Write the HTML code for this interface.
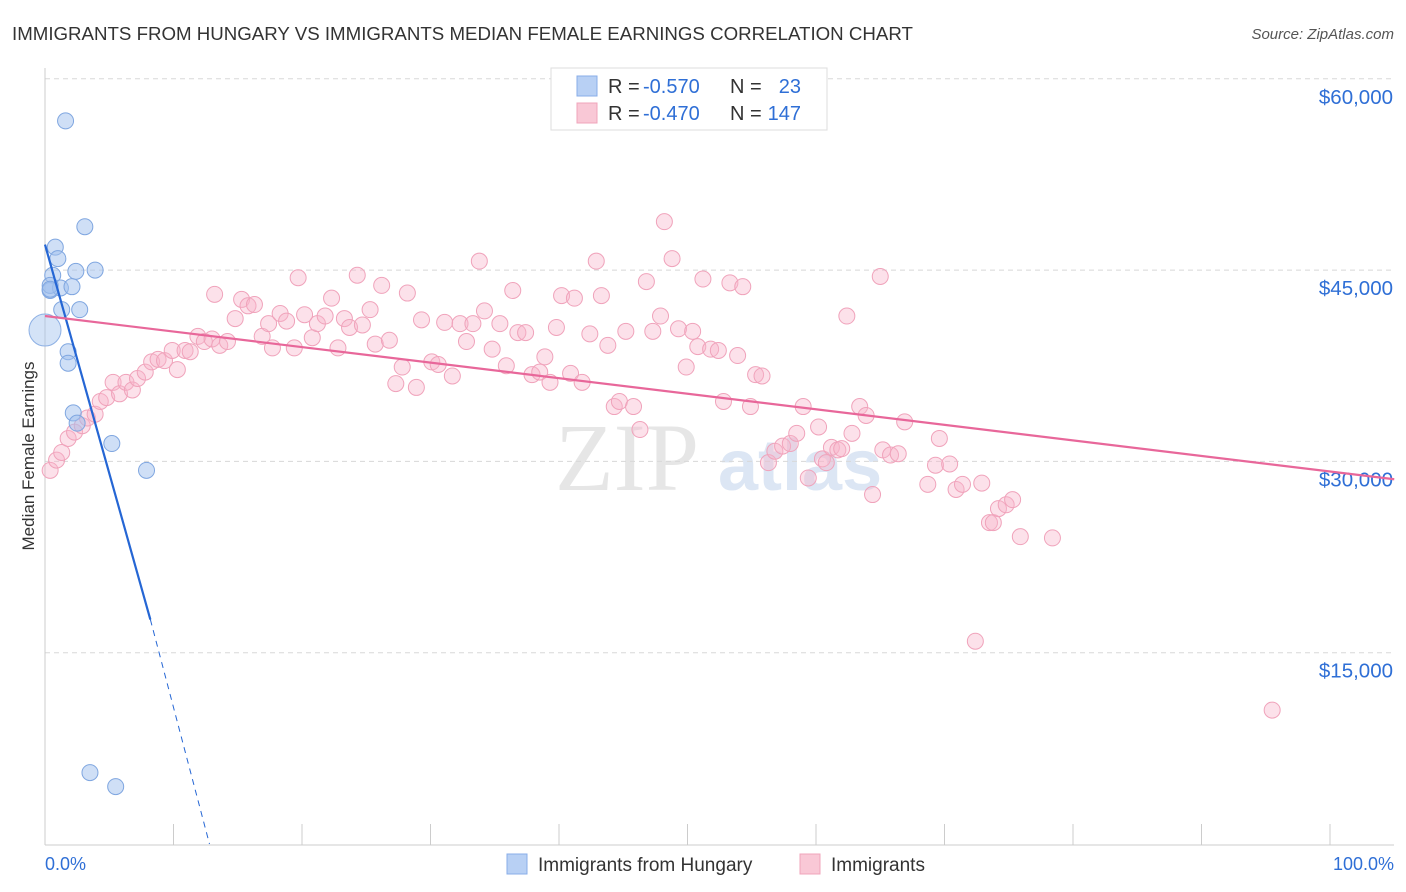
<!DOCTYPE html>
<html><head><meta charset="utf-8"><style>
body{margin:0;background:#fff;font-family:"Liberation Sans",sans-serif;}
svg{display:block}
</style></head><body>
<svg id="chart" width="1406" height="892" viewBox="0 0 1406 892">
<text x="12" y="40" font-size="18.7" fill="#333">IMMIGRANTS FROM HUNGARY VS IMMIGRANTS MEDIAN FEMALE EARNINGS CORRELATION CHART</text>
<text x="1394" y="39" font-size="15" fill="#555" font-style="italic" text-anchor="end">Source: ZipAtlas.com</text>
<text x="555" y="490" font-size="96" fill="#e6e6e6" font-family="Liberation Serif,serif">ZIP</text>
<text x="718" y="490" font-size="72" fill="#dce6f4" font-weight="bold">atlas</text>
<text transform="translate(34,456) rotate(-90)" font-size="17" fill="#333" text-anchor="middle">Median Female Earnings</text>
<g id="grid"></g><g id="axes"></g><g id="pink"></g><g id="blue"></g><g id="lines"></g>
<g>
<rect x="551" y="68" width="276" height="62" fill="#fff" stroke="#ddd"/>
<rect x="577" y="76" width="20" height="20" fill="#b8d0f4" stroke="#88aee8"/>
<rect x="577" y="103" width="20" height="20" fill="#f9c8d6" stroke="#f0a4bb"/>
<text x="608" y="93" font-size="20" fill="#333">R =</text>
<text x="643" y="93" font-size="20" fill="#2f6fd6">-0.570</text>
<text x="730" y="93" font-size="20" fill="#333">N =</text>
<text x="801" y="93" font-size="20" fill="#2f6fd6" text-anchor="end">23</text>
<text x="608" y="120" font-size="20" fill="#333">R =</text>
<text x="643" y="120" font-size="20" fill="#2f6fd6">-0.470</text>
<text x="730" y="120" font-size="20" fill="#333">N =</text>
<text x="801" y="120" font-size="20" fill="#2f6fd6" text-anchor="end">147</text>
</g>
<g>
<rect x="507" y="854" width="20" height="20" fill="#b8d0f4" stroke="#88aee8"/>
<text x="538" y="871" font-size="19" fill="#333">Immigrants from Hungary</text>
<rect x="800" y="854" width="20" height="20" fill="#f9c8d6" stroke="#f0a4bb"/>
<text x="831" y="871" font-size="19" fill="#333">Immigrants</text>
</g>
<text x="45" y="870" font-size="18" fill="#2f6fd6">0.0%</text>
<text x="1394" y="870" font-size="18" fill="#2f6fd6" text-anchor="end">100.0%</text>
</svg>
<script>
const yTicks=[60000,45000,30000,15000];
const yTickLabels=["$60,000","$45,000","$30,000","$15,000"];
const xTicks=[0,10,20,30,40,50,60,70,80,90,100];
const blueX=[1.6,3.1,0.8,1.0,3.9,2.4,0.6,0.4,1.2,2.1,2.7,1.3,1.8,1.8,2.2,2.5,5.2,7.9,3.5,5.5,0.4,0.4];
const blueY=[56700,48400,46800,45900,45000,44900,44600,43400,43600,43700,41900,41900,38600,37700,33800,33000,31400,29300,5600,4500,43800,43500];
const bigBlue=[0,40300];
const pinkX=[0.4,0.9,1.3,1.8,2.3,2.9,3.3,3.9,4.3,4.8,5.3,5.8,6.3,6.8,7.2,7.8,8.3,8.8,9.3,9.9,10.3,10.9,11.3,11.9,12.4,13.0,13.6,14.2,13.2,14.8,15.3,15.8,16.3,16.9,17.4,17.7,18.3,18.8,19.4,19.7,20.2,20.8,21.2,21.8,22.3,22.8,23.3,23.7,24.3,24.7,25.3,25.7,26.2,26.8,27.3,27.8,28.2,28.9,29.3,30.1,30.6,31.1,31.7,32.3,32.8,33.3,33.8,34.2,34.8,35.4,35.9,36.4,36.8,37.4,37.9,38.5,38.9,39.3,39.8,40.2,40.9,41.2,41.8,42.4,42.9,43.3,43.8,44.3,44.7,45.2,45.8,46.3,46.8,47.3,47.9,48.2,48.8,49.3,49.9,50.4,50.8,51.2,51.8,52.4,52.8,53.3,53.9,54.3,54.9,55.3,55.8,56.3,56.8,57.4,58.0,58.5,59.0,59.4,60.2,60.5,60.8,61.2,61.7,62.0,62.4,62.8,63.4,63.9,64.4,65.0,65.2,65.8,66.4,66.9,68.7,69.3,69.6,70.4,70.9,71.4,72.4,72.9,73.5,73.8,74.2,74.8,75.3,75.9,78.4,95.5];
const pinkY=[29.3,30.1,30.7,31.8,32.3,32.8,33.4,33.7,34.7,35.0,36.2,35.3,36.2,35.6,36.5,37.0,37.8,38.0,37.9,38.7,37.2,38.7,38.6,39.8,39.4,39.6,39.1,39.4,43.1,41.2,42.7,42.2,42.3,39.8,40.8,38.9,41.6,41.0,38.9,44.4,41.5,39.7,40.8,41.4,42.8,38.9,41.2,40.5,44.6,40.7,41.9,39.2,43.8,39.5,36.1,37.4,43.2,35.8,41.1,37.8,37.6,40.9,36.7,40.8,39.4,40.8,45.7,41.8,38.8,40.8,37.5,43.4,40.1,40.1,36.8,37.0,38.2,36.2,40.5,43.0,36.9,42.8,36.2,40.0,45.7,43.0,39.1,34.3,34.7,40.2,34.3,32.5,44.1,40.2,41.4,48.8,45.9,40.4,37.4,40.2,39.0,44.3,38.8,38.7,34.7,44.0,38.3,43.7,34.3,36.8,36.7,29.9,30.8,31.2,31.4,32.2,34.3,28.7,32.7,30.2,29.9,31.1,30.9,31.0,41.4,32.2,34.3,33.6,27.4,44.5,30.9,30.5,30.6,33.1,28.2,29.7,31.8,29.8,27.8,28.2,15.9,28.3,25.2,25.2,26.3,26.6,27.0,24.1,24.0,10.5].map(v=>v*1000);
const blueTrend=[[0,47000],[8.2,17600],[12.8,0]];
const pinkTrend=[[0,41400],[105,28600]];

const NS="http://www.w3.org/2000/svg";
const xs=p=>45+p*12.85;
const ys=v=>844-v*191.3/15000;
function mk(tag,attrs,parent){const e=document.createElementNS(NS,tag);for(const k in attrs)e.setAttribute(k,attrs[k]);document.getElementById(parent).appendChild(e);return e;}
yTicks.forEach((t,i)=>{
 const g=mk('line',{x1:45,x2:1394,y1:ys(t),y2:ys(t),stroke:'#d8d8d8','stroke-dasharray':'5,4'},'grid');
 
 
 const l=mk('text',{x:1393,y:ys(t)+25,'font-size':20.5,fill:'#2f6fd6','text-anchor':'end'},'grid');
 l.textContent=yTickLabels[i];
 
 
});
const ax=mk('line',{x1:45,x2:45,y1:68,y2:845,stroke:'#ccc'},'axes');


const bx=mk('line',{x1:45,x2:1394,y1:845,y2:845,stroke:'#ccc'},'axes');


xTicks.forEach(t=>{const e=mk('line',{x1:xs(t),x2:xs(t),y1:824,y2:845,stroke:'#ccc'},'axes');
 
 });
pinkX.forEach((x,i)=>{const c=mk('circle',{cx:xs(x),cy:ys(pinkY[i]),r:8,fill:'rgba(248,180,202,0.4)',stroke:'#f0a3bb','stroke-width':1},'pink');
 
 });
const bb=mk('circle',{cx:xs(bigBlue[0]),cy:ys(bigBlue[1]),r:16,fill:'rgba(160,192,238,0.45)',stroke:'#8db0e4'},'blue');


blueX.forEach((x,i)=>{const c=mk('circle',{cx:xs(x),cy:ys(blueY[i]),r:8,fill:'rgba(160,192,238,0.5)',stroke:'#7fa6e0'},'blue');
 
 });
const b1=mk('line',{x1:xs(blueTrend[0][0]),y1:ys(blueTrend[0][1]),x2:xs(blueTrend[1][0]),y2:ys(blueTrend[1][1]),stroke:'#2566d4','stroke-width':2.2},'lines');


const b2=mk('line',{x1:xs(blueTrend[1][0]),y1:ys(blueTrend[1][1]),x2:xs(blueTrend[2][0]),y2:ys(blueTrend[2][1]),stroke:'#2566d4','stroke-width':1,'stroke-dasharray':'6,5'},'lines');


const p1=mk('line',{x1:xs(pinkTrend[0][0]),y1:ys(pinkTrend[0][1]),x2:xs(pinkTrend[1][0]),y2:ys(pinkTrend[1][1]),stroke:'#e8679a','stroke-width':2.2},'lines');


</script>
</body></html>
